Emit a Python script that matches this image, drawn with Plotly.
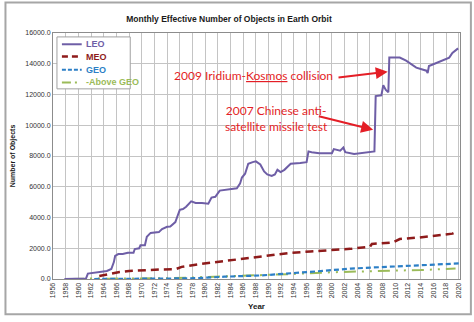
import plotly.graph_objects as go

# ---------------- data ----------------
leo_years = [1957.8, 1961.2, 1961.5, 1962.5, 1963.5, 1964.5, 1965.2, 1965.6, 1965.8, 1966.3,
             1967.0, 1967.8, 1968.7, 1968.9, 1969.6, 1969.8, 1970.5, 1970.8, 1971.4, 1972.7,
             1973.2, 1974.0, 1974.5, 1975.3, 1975.6, 1976.0, 1976.5, 1977.0, 1977.8, 1978.5,
             1979.5, 1980.5, 1981.0, 1981.6, 1982.3, 1983.3, 1984.5, 1985.0, 1985.5, 1985.8,
             1986.3, 1986.8, 1987.5, 1988.0, 1988.7, 1989.3, 1989.8, 1990.5, 1991.0, 1991.4,
             1991.9, 1992.5, 1993.0, 1993.5, 1995.0, 1996.0, 1996.3, 1996.8, 1998.0, 2000.0,
             2000.3, 2001.3, 2001.8, 2002.1, 2003.5, 2005.5, 2006.7, 2006.9, 2007.8, 2008.1,
             2008.5, 2008.9, 2009.05, 2010.7, 2011.7, 2013.3, 2014.9, 2015.1, 2015.3, 2015.9,
             2017.5, 2018.5, 2019.0, 2019.9]
leo_values = [0, 30, 350, 400, 450, 520, 650, 1100, 1500, 1620,
              1620, 1700, 1700, 1950, 2000, 2200, 2200, 2750, 3000, 3050,
              3250, 3400, 3420, 3700, 4050, 4500, 4550, 4700, 5050, 4950,
              4950, 4900, 5300, 5350, 5750, 5800, 5850, 5900, 6200, 6600,
              6850, 7500, 7600, 7650, 7450, 7000, 6800, 6700, 6800, 7100,
              6950, 7100, 7300, 7500, 7550, 7600, 8300, 8250, 8180, 8180,
              8450, 8350, 8550, 8250, 8130, 8240, 8300, 11900, 11950, 12600,
              12300, 12150, 14400, 14400, 14200, 13750, 13550, 13400, 13850, 13950,
              14200, 14400, 14700, 15000]

meo_years = [1963.3, 1964.5, 1965.4, 1966.5, 1968.0, 1969.5, 1970.0, 1973.2, 1975.3, 1976.3,
             1979.4, 1982.6, 1985.7, 1988.3, 1989.9, 1993.0, 1996.6, 1999.5, 2002.9, 2006.0,
             2006.3, 2009.6, 2010.7, 2013.8, 2016.9, 2019.0, 2019.8]
meo_values = [200, 300, 400, 450, 520, 560, 580, 620, 630, 790,
              980, 1150, 1320, 1480, 1530, 1680, 1790, 1860, 1960, 2100,
              2280, 2380, 2600, 2700, 2860, 2950, 3100]

geo_years = [1962.5, 1975.0, 1977.0, 1980.0, 1983.0, 1988.8, 1994.0, 1997.7, 2003.0, 2009.6,
             2013.3, 2017.0, 2020.0]
geo_values = [0, 10, 40, 80, 150, 230, 360, 500, 680, 800,
              850, 950, 1010]

above_years = [1959.0, 1961.5, 1965.0, 1970.0, 1975.0, 1980.0, 1984.0, 1988.0, 1993.5, 1999.3,
               2004.0, 2009.0, 2014.0, 2019.5]
above_values = [0, 30, 20, 40, 60, 130, 180, 220, 320, 430,
                500, 540, 580, 680]

series_names = ["LEO", "MEO", "GEO", "Above GEO"]
x_tick_values = list(range(1956, 2021, 2))
y_tick_values = list(range(0, 16001, 2000))

# annotation events: (label, head_year, head_value, tail_year, tail_value, text_year, text_value)
events = [
    ("2009 Iridium-<u>Kosmos</u> collision", 2008.8, 13480, 2000.8, 13100, 1987.6, 13230),
    ("2007 Chinese anti-<br>satellite missile test", 2006.5, 9710, 1997.7, 10610, 1991.2, 10420),
]

# ---------------- style ----------------
W, H = 474, 322
L, R, T, B = 50, 13, 33, 38
PW, PH = W - L - R, H - T - B

def px(x):
    return (x - L) / PW

def py(y):
    return (H - B - y) / PH

colors = {"LEO": "#6E5EA6", "MEO": "#8E1B1B", "GEO": "#2C7FC6", "Above GEO": "#9BBB59"}
dashes = {"LEO": "solid", "MEO": "8px,5px", "GEO": "5px,3px", "Above GEO": "12px,6px,2px,6px,2px,6px"}
widths = {"LEO": 2, "MEO": 2.5, "GEO": 2.2, "Above GEO": 2}
FONT = "Liberation Sans, Arial, sans-serif"
RED = "#E41E26"

fig = go.Figure()
data = {
    "LEO": (leo_years, leo_values),
    "MEO": (meo_years, meo_values),
    "GEO": (geo_years, geo_values),
    "Above GEO": (above_years, above_values),
}
for name in ["Above GEO", "GEO", "MEO", "LEO"]:
    xs, ys = data[name]
    fig.add_trace(go.Scatter(x=xs, y=ys, mode="lines", name=name, showlegend=False,
                             line=dict(color=colors[name], width=widths[name], dash=dashes[name])))

shapes = []
annotations = []

# outer chart frame
shapes.append(dict(type="rect", xref="paper", yref="paper",
                   x0=px(2), x1=px(472), y0=py(320), y1=py(2),
                   line=dict(color="#A6A6A6", width=2), layer="below"))

# manual legend
shapes.append(dict(type="rect", xref="paper", yref="paper",
                   x0=px(54), x1=px(128), y0=py(90), y1=py(37),
                   line=dict(color="#A0A0A0", width=1), fillcolor="white", layer="above"))
leg_y = [44.5, 57, 70.5, 83.5]
leg_dash = {"LEO": "solid", "MEO": "6px,4px", "GEO": "4px,2px", "Above GEO": "9px,4px,2px,10px"}
for name, yy in zip(series_names, leg_y):
    shapes.append(dict(type="line", xref="paper", yref="paper",
                       x0=px(59), x1=px(79), y0=py(yy), y1=py(yy),
                       line=dict(color=colors[name], width=widths[name], dash=leg_dash[name])))
    annotations.append(dict(xref="paper", yref="paper", x=px(81), y=py(yy),
                            xanchor="left", yanchor="middle", showarrow=False,
                            text=f"<b>{'-' if name == 'Above GEO' else ''}{name}</b>",
                            font=dict(family=FONT, size=9, color=colors[name])))

# event annotations
for label, hx, hy, tx, ty, lx, ly in events:
    annotations.append(dict(x=hx, y=hy, ax=tx, ay=ty, xref="x", yref="y", axref="x", ayref="y",
                            text="", showarrow=True, arrowhead=2, arrowsize=1.2, arrowwidth=2,
                            arrowcolor=RED))
    annotations.append(dict(x=lx, y=ly, xref="x", yref="y", text=label, showarrow=False,
                            xanchor="center", yanchor="middle", align="center",
                            font=dict(family="Lato, Carlito, sans-serif", size=12, color=RED)))

fig.update_layout(
    width=W, height=H,
    margin=dict(l=L, r=R, t=T, b=B, pad=0),
    paper_bgcolor="white", plot_bgcolor="white",
    title=dict(text="<b>Monthly Effective Number of Objects in Earth Orbit</b>",
               x=229 / W, xref="container", xanchor="center",
               y=1 - 19 / H, yref="container", yanchor="middle",
               font=dict(family=FONT, size=8.5, color="#1a1a1a")),
    xaxis=dict(range=[1956, 2020.2], tickvals=x_tick_values, ticktext=[str(v) for v in x_tick_values],
               tickangle=-90, tickfont=dict(family=FONT, size=7, color="#333333"),
               showgrid=True, gridcolor="#C4C4C4", gridwidth=1,
               showline=True, linecolor="#8C8C8C", linewidth=1, mirror=True,
               ticks="", zeroline=False,
               title=dict(text="<b>Year</b>", font=dict(family=FONT, size=8, color="#1a1a1a"), standoff=6)),
    yaxis=dict(range=[0, 16000], tickvals=y_tick_values, tickformat=".1f",
               tickfont=dict(family=FONT, size=7, color="#333333"),
               showgrid=True, gridcolor="#C4C4C4", gridwidth=1,
               showline=True, linecolor="#8C8C8C", linewidth=1, mirror=True,
               ticks="", zeroline=False,
               title=dict(text="<b>Number of Objects</b>", font=dict(family=FONT, size=7, color="#1a1a1a"),
                          standoff=8)),
    shapes=shapes, annotations=annotations,
    showlegend=False,
)

fig.write_html("out.html")
